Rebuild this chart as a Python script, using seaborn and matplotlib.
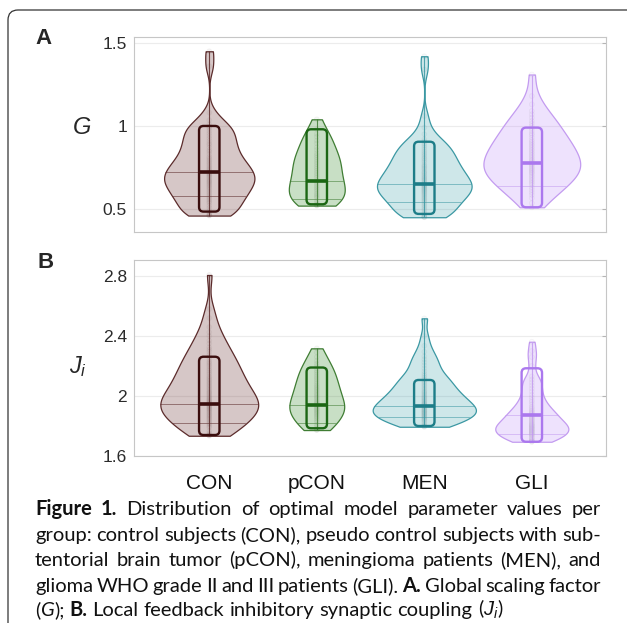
import re
import numpy as np
import pandas as pd
import matplotlib
matplotlib.use("Agg")
import matplotlib.pyplot as plt
import seaborn as sns
from matplotlib.patches import FancyBboxPatch

# groups shown on the x axis
groups = ["CON", "pCON", "MEN", "GLI"]

# Panel A: global scaling factor G, values per subject (estimated from the figure)
g_con = [0.46, 0.461, 0.465, 0.475, 0.49, 0.505, 0.52, 0.535, 0.545, 0.555, 0.565,
         0.575, 0.585, 0.595, 0.605, 0.615, 0.625, 0.633, 0.642, 0.65, 0.658, 0.665,
         0.672, 0.68, 0.69, 0.698, 0.705, 0.712, 0.72, 0.728, 0.737, 0.745, 0.755,
         0.765, 0.775, 0.785, 0.795, 0.805, 0.815, 0.83, 0.845, 0.855, 0.87, 0.885,
         0.895, 0.91, 0.925, 0.94, 0.955, 0.97, 0.985, 0.995, 1.01, 1.035, 1.08,
         1.36, 1.45]
g_pcon = [0.52, 0.521, 0.525, 0.535, 0.548, 0.565, 0.575, 0.584, 0.594, 0.607, 0.618,
          0.628, 0.638, 0.65, 0.662, 0.673, 0.69, 0.703, 0.716, 0.73, 0.743, 0.756,
          0.77, 0.783, 0.796, 0.81, 0.823, 0.836, 0.855, 0.872, 0.895, 0.912, 0.935,
          0.952, 0.98, 1.04]
g_men = [0.45, 0.451, 0.455, 0.462, 0.47, 0.48, 0.495, 0.505, 0.515, 0.525, 0.535,
         0.545, 0.552, 0.56, 0.567, 0.575, 0.582, 0.589, 0.596, 0.603, 0.609, 0.615,
         0.621, 0.627, 0.633, 0.639, 0.644, 0.648, 0.655, 0.662, 0.67, 0.677, 0.684,
         0.689, 0.697, 0.705, 0.713, 0.72, 0.727, 0.737, 0.745, 0.753, 0.76, 0.768,
         0.78, 0.79, 0.80, 0.808, 0.818, 0.828, 0.838, 0.848, 0.86, 0.872, 0.884,
         0.896, 0.908, 0.92, 0.95, 0.99, 1.06, 1.34, 1.42]
g_gli = [0.51, 0.535, 0.565, 0.585, 0.60, 0.615, 0.63, 0.645, 0.655, 0.665, 0.675,
         0.685, 0.695, 0.705, 0.715, 0.722, 0.73, 0.738, 0.746, 0.755, 0.765, 0.772,
         0.78, 0.788, 0.796, 0.805, 0.815, 0.825, 0.835, 0.845, 0.855, 0.865, 0.875,
         0.885, 0.895, 0.905, 0.915, 0.93, 0.945, 0.955, 0.97, 0.985, 1.0, 1.015,
         1.03, 1.05, 1.07, 1.09, 1.13, 1.18, 1.31]

# box summaries of panel A (q1, median, q3) and the thin lines across the violins
g_q1 = [0.484, 0.528, 0.47, 0.51]
g_med = [0.72, 0.67, 0.648, 0.775]
g_q3 = [1.0, 0.98, 0.905, 0.99]
g_lines = [[0.72, 0.58], [0.67, 0.558], [0.648, 0.54], [0.64]]

# Panel B: local feedback inhibitory coupling J_i
j_con = [1.735, 1.736, 1.74, 1.752, 1.768, 1.79, 1.80, 1.812, 1.82, 1.83, 1.84,
         1.848, 1.857, 1.865, 1.873, 1.88, 1.89, 1.897, 1.905, 1.912, 1.919, 1.926,
         1.932, 1.94, 1.947, 1.954, 1.961, 1.968, 1.975, 1.982, 1.99, 1.998, 2.007,
         2.016, 2.024, 2.032, 2.042, 2.052, 2.062, 2.072, 2.082, 2.092, 2.102, 2.112,
         2.122, 2.132, 2.145, 2.157, 2.169, 2.181, 2.195, 2.207, 2.219, 2.23, 2.245,
         2.26, 2.275, 2.295, 2.31, 2.325, 2.35, 2.37, 2.40, 2.425, 2.46, 2.52, 2.58,
         2.807]
j_pcon = [1.773, 1.775, 1.782, 1.795, 1.81, 1.826, 1.838, 1.85, 1.86, 1.868, 1.878,
          1.886, 1.894, 1.902, 1.91, 1.918, 1.926, 1.934, 1.942, 1.95, 1.958, 1.966,
          1.978, 1.988, 1.998, 2.008, 2.018, 2.03, 2.04, 2.05, 2.06, 2.07, 2.082,
          2.095, 2.108, 2.12, 2.132, 2.145, 2.158, 2.17, 2.185, 2.2, 2.215, 2.235,
          2.26, 2.29, 2.318]
j_men = [1.795, 1.796, 1.80, 1.808, 1.818, 1.828, 1.838, 1.843, 1.849, 1.855, 1.861,
         1.866, 1.872, 1.877, 1.882, 1.887, 1.892, 1.897, 1.902, 1.907, 1.912, 1.918,
         1.924, 1.93, 1.935, 1.94, 1.946, 1.951, 1.958, 1.965, 1.972, 1.979, 1.986,
         1.992, 2.0, 2.008, 2.016, 2.024, 2.031, 2.04, 2.05, 2.06, 2.07, 2.08, 2.09,
         2.1, 2.11, 2.122, 2.135, 2.148, 2.165, 2.185, 2.205, 2.225, 2.245, 2.265,
         2.295, 2.335, 2.40, 2.518]
j_gli = [1.695, 1.696, 1.70, 1.706, 1.713, 1.72, 1.728, 1.737, 1.742, 1.747, 1.752,
         1.757, 1.762, 1.767, 1.772, 1.777, 1.782, 1.787, 1.792, 1.797, 1.802, 1.807,
         1.812, 1.818, 1.825, 1.832, 1.839, 1.846, 1.853, 1.86, 1.868, 1.876, 1.884,
         1.892, 1.90, 1.91, 1.92, 1.93, 1.945, 1.96, 1.972, 1.99, 2.008, 2.03, 2.05,
         2.07, 2.09, 2.11, 2.13, 2.2, 2.26, 2.3, 2.362]

j_q1 = [1.74, 1.785, 1.80, 1.695]
j_med = [1.947, 1.94, 1.935, 1.873]
j_q3 = [2.262, 2.19, 2.107, 2.185]
j_lines = [[1.947, 1.818], [1.94, 1.818], [1.935, 1.862], [1.873, 1.75]]

# styling
edge_cols = ["#5b2b2b", "#3f7d33", "#3b98a3", "#c39bf0"]
box_cols = ["#3a0d0d", "#1b6613", "#1d7d88", "#ab78ee"]
fill_rgb = [(120, 70, 70), (60, 140, 50), (60, 160, 170), (190, 140, 250)]
fill_alpha = [0.30, 0.28, 0.25, 0.25]
widths_a = [0.84, 0.52, 0.88, 0.90]
widths_b = [0.91, 0.51, 0.96, 0.68]
kde_bw_a = [0.05, 0.06, 0.05, 0.07]   # kernel bandwidth in data units
kde_bw_b = [0.07, 0.06, 0.045, 0.04]
BOX_W = 0.19

sns.set_style("white")
plt.rcParams["font.family"] = ["Liberation Sans", "DejaVu Sans"]
plt.rcParams["mathtext.fontset"] = "custom"
plt.rcParams["mathtext.it"] = "Liberation Sans:italic"
plt.rcParams["mathtext.rm"] = "Liberation Sans"

W, H = 627, 623
fig = plt.figure(figsize=(W / 100, H / 100), dpi=100)


def px_rect(l, t, r, b):
    return [l / W, 1 - b / H, (r - l) / W, (b - t) / H]


def adjust_for(vals, bw):
    v = np.asarray(vals, dtype=float)
    return bw / (v.std(ddof=1) * len(v) ** -0.2)


def draw_panel(ax, data, q1, med, q3, lines, widths, bws, ylim, yticks, yticklabels):
    polys = []
    for i, g in enumerate(groups):
        df = pd.DataFrame({"group": g, "value": data[i]})
        n_before = len(ax.collections)
        sns.violinplot(data=df, x="group", y="value", order=groups, ax=ax,
                       width=widths[i], cut=0, inner=None, density_norm="width",
                       bw_adjust=adjust_for(data[i], bws[i]), color=edge_cols[i],
                       linecolor=edge_cols[i], linewidth=0.9, saturation=1, gridsize=300)
        poly = ax.collections[n_before]
        r, gg, b = fill_rgb[i]
        poly.set_facecolor((r / 255, gg / 255, b / 255, fill_alpha[i]))
        poly.set_edgecolor(edge_cols[i])
        polys.append(poly)

    long_df = pd.DataFrame({"group": np.repeat(groups, [len(d) for d in data]),
                            "value": np.concatenate(data)})
    sns.stripplot(data=long_df, x="group", y="value", hue="group", order=groups,
                  hue_order=groups, palette=edge_cols, jitter=False, size=3.5,
                  alpha=0.05, linewidth=0.6, edgecolor="#555555", legend=False,
                  ax=ax, zorder=3)

    ax.set_xlim(-0.7, 3.69)
    ax.set_ylim(*ylim)
    ax.set_yticks(yticks)
    ax.set_yticklabels(yticklabels)
    ax.set_xlabel("")
    ax.set_ylabel("")

    # aspect for rounded boxes
    pos = ax.get_position()
    x_ppu = pos.width * W / (3.69 + 0.7)
    y_ppu = pos.height * H / (ylim[1] - ylim[0])
    for i in range(len(groups)):
        col = edge_cols[i]
        ax.vlines(i, min(data[i]), max(data[i]), color=col, lw=0.8, alpha=0.85, zorder=4)
        for v in lines[i]:
            ln, = ax.plot([i - 0.6, i + 0.6], [v, v], color=col, lw=0.7, alpha=0.55, zorder=4)
            ln.set_clip_path(polys[i].get_paths()[0], polys[i].get_transform())
        box = FancyBboxPatch((i - BOX_W / 2, q1[i]), BOX_W, q3[i] - q1[i],
                             boxstyle="round,pad=0,rounding_size=%f" % (4.5 / x_ppu),
                             mutation_aspect=x_ppu / y_ppu, fc="none",
                             ec=box_cols[i], lw=1.7, zorder=5)
        ax.add_patch(box)
        ax.plot([i - BOX_W / 2, i + BOX_W / 2], [med[i], med[i]], color=box_cols[i],
                lw=2.6, solid_capstyle="butt", zorder=6)

    ax.yaxis.grid(True, color="#ececec", lw=0.8)
    ax.set_axisbelow(True)
    for s in ax.spines.values():
        s.set_visible(True)
        s.set_color("#c6c6c6")
        s.set_linewidth(0.8)
    ax.tick_params(axis="y", direction="in", length=3, color="#b5b5b5", right=True,
                   labelsize=12.5, labelcolor="#2b2b2b", pad=5)
    ax.tick_params(axis="x", length=0, labelsize=15, labelcolor="#111111", pad=13)


ax_a = fig.add_axes(px_rect(134, 37, 606, 232))
draw_panel(ax_a, [g_con, g_pcon, g_men, g_gli], g_q1, g_med, g_q3, g_lines,
           widths_a, kde_bw_a, (0.361, 1.536), [0.5, 1, 1.5], ["0.5", "1", "1.5"])
ax_a.set_xticklabels([])

ax_b = fig.add_axes(px_rect(134, 260, 606, 456))
draw_panel(ax_b, [j_con, j_pcon, j_men, j_gli], j_q1, j_med, j_q3, j_lines,
           widths_b, kde_bw_b, (1.6, 2.907), [1.6, 2, 2.4, 2.8], ["1.6", "2", "2.4", "2.8"])

# axis labels and panel letters
fig.text(82 / W, 1 - 128 / H, "G", fontsize=17, style="italic", ha="center", va="center")
fig.text(78 / W, 1 - 367 / H, "$J_i$", fontsize=17, ha="center", va="center")
fig.text(43 / W, 1 - 38 / H, "A", fontsize=16, weight="bold", ha="center", va="center")
fig.text(46 / W, 1 - 262 / H, "B", fontsize=16, weight="bold", ha="center", va="center")

# outer rounded frame (only left and top edges fall inside the picture)
frame = FancyBboxPatch((8, -60), 700, H - 10 + 60, boxstyle="round,pad=0,rounding_size=10",
                       fc="none", ec="#333333", lw=0.9, transform=None)
fig.patches.append(frame)

# caption, justified
caption = [
    ("**Figure 1.** Distribution of optimal model parameter values per", True),
    ("group: control subjects (CON), pseudo control subjects with sub-", True),
    ("tentorial brain tumor (pCON), meningioma patients (MEN), and", True),
    ("glioma WHO grade II and III patients (GLI). **A.** Global scaling factor", True),
    ("(~G~); **B.** Local feedback inhibitory synaptic coupling ($J_i$)", False),
]
baselines = [515, 541, 566, 592, 616]
CAP_X0, CAP_X1 = 35, 601
CAP_FONT = "Lato"


def parse(line):
    segs = []
    for part in re.split(r"(\*\*.*?\*\*|~.*?~)", line):
        if not part:
            continue
        if part.startswith("**"):
            segs.append((part[2:-2], "bold"))
        elif part.startswith("~"):
            segs.append((part[1:-1], "italic"))
        else:
            segs.append((part, "normal"))
    words = [[]]
    for text, st in segs:
        for k, p in enumerate(text.split(" ")):
            if k > 0:
                words.append([])
            if p:
                words[-1].append((p, st))
    return [w for w in words if w]


renderer = fig.canvas.get_renderer()


def seg_kw(st, fs):
    kw = dict(fontsize=fs, family=[CAP_FONT, "DejaVu Sans"], color="#111111")
    if st == "bold":
        kw["weight"] = "bold"
    if st == "italic":
        kw["style"] = "italic"
    return kw


def seg_width(text, st, fs):
    t = fig.text(0, 0, text, **seg_kw(st, fs))
    w = t.get_window_extent(renderer=renderer).width
    t.remove()
    return w


def line_widths(words, fs):
    return [sum(seg_width(s, st, fs) for s, st in w) for w in words]


parsed = [parse(l) for l, _ in caption]
fs = 15.0
while fs > 9:
    ok = True
    for words in parsed:
        ws = line_widths(words, fs)
        if sum(ws) + 3.0 * (len(ws) - 1) > CAP_X1 - CAP_X0:
            ok = False
            break
    if ok:
        break
    fs -= 0.25

space_nat = seg_width("a a", "normal", fs) - seg_width("aa", "normal", fs)
for (line, justify), words, yb in zip(caption, parsed, baselines):
    ws = line_widths(words, fs)
    if justify and len(ws) > 1:
        gap = (CAP_X1 - CAP_X0 - sum(ws)) / (len(ws) - 1)
    else:
        gap = space_nat
    x = CAP_X0
    for w, wlen in zip(words, ws):
        xx = x
        for s, st in w:
            fig.text(xx / W, 1 - yb / H, s, ha="left", va="baseline", **seg_kw(st, fs))
            xx += seg_width(s, st, fs)
        x += wlen + gap

fig.savefig("out.png", dpi=100)
